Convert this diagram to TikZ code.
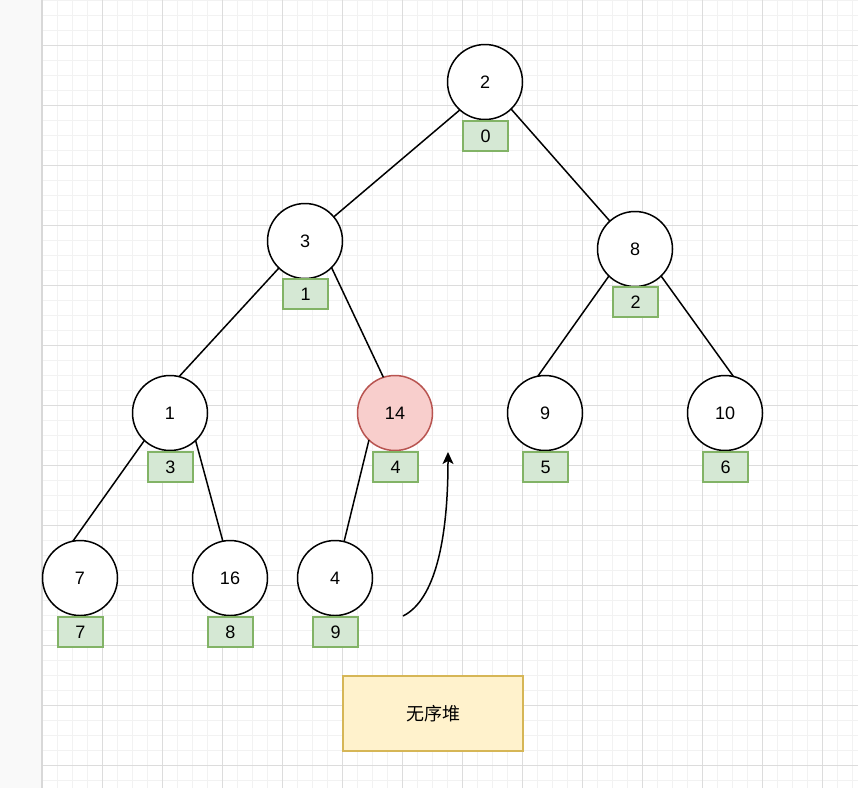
\documentclass[tikz,border=0pt]{standalone}
\usepackage{fontspec}
\setmainfont{Liberation Sans}
\newfontfamily\cjk{Noto Sans CJK SC}
\usetikzlibrary{arrows.meta}
\definecolor{minorgrid}{HTML}{F2F2F2}
\definecolor{majorgrid}{HTML}{DCDCDC}
\definecolor{panelbg}{HTML}{F9F9F9}
\definecolor{panelline}{HTML}{D8D8D8}
\definecolor{greenfill}{HTML}{D5E8D4}
\definecolor{greenline}{HTML}{82B366}
\definecolor{redfill}{HTML}{F8CECC}
\definecolor{redline}{HTML}{B85450}
\definecolor{yellowfill}{HTML}{FFF2CC}
\definecolor{yellowline}{HTML}{D6B656}
\tikzset{
  heapnode/.style={circle, draw=black, fill=white, line width=1.5pt, minimum size=75pt, inner sep=0pt, outer sep=0pt, font=\fontsize{18}{20}\selectfont},
  rednode/.style={heapnode, draw=redline, fill=redfill},
  idxbox/.style={rectangle, draw=greenline, fill=greenfill, line width=1.5pt, minimum width=45pt, minimum height=30pt, inner sep=0pt, outer sep=0pt, font=\fontsize{18}{20}\selectfont},
  notebox/.style={rectangle, draw=yellowline, fill=yellowfill, line width=1.5pt, minimum width=180pt, minimum height=75pt, inner sep=0pt, font=\cjk\fontsize{18}{20}\selectfont},
  edge/.style={draw=black, line width=1.5pt},
  curvearrow/.style={draw=black, line width=1.5pt, -{Stealth[length=12pt, width=11pt, inset=3pt]}}
}
\begin{document}
\begin{tikzpicture}[x=1pt, y=-1pt]
\useasboundingbox (0,0) rectangle (858,788);
% background
\fill[white] (0,0) rectangle (858,788);
\foreach \x in {57,72,...,858} \draw[minorgrid, line width=1pt] (\x,0) -- (\x,788);
\foreach \y in {0,15,...,788} \draw[minorgrid, line width=1pt] (42,\y) -- (858,\y);
\foreach \x in {102,162,...,858} \draw[majorgrid, line width=1pt] (\x,0) -- (\x,788);
\foreach \y in {45,105,...,788} \draw[majorgrid, line width=1pt] (42,\y) -- (858,\y);
\fill[panelbg] (0,0) rectangle (42,788);
\draw[panelline, line width=1.5pt] (42,0) -- (42,788);
% heap nodes
\node[heapnode] (n2) at (485,82) {2};
\node[heapnode] (n3) at (305,241) {3};
\node[heapnode] (n8) at (635,249) {8};
\node[heapnode] (n1) at (170,413) {1};
\node[rednode] (n14) at (395,413) {14};
\node[heapnode] (n9) at (545,413) {9};
\node[heapnode] (n10) at (725,413) {10};
\node[heapnode] (n7) at (80,578) {7};
\node[heapnode] (n16) at (230,578) {16};
\node[heapnode] (n4) at (335,578) {4};
% index boxes
\node[idxbox] (l0) at (485.5,136) {0};
\node[idxbox] (l1) at (305.5,294) {1};
\node[idxbox] (l2) at (635.5,302) {2};
\node[idxbox] (l3) at (170.5,467) {3};
\node[idxbox] (l4) at (395.5,467) {4};
\node[idxbox] (l5) at (545.5,467) {5};
\node[idxbox] (l6) at (725.5,467) {6};
\node[idxbox] (l7) at (80.5,632) {7};
\node[idxbox] (l8) at (230.5,632) {8};
\node[idxbox] (l9) at (335.5,632) {9};
% edges
\draw[edge] (n2.228) -- (n3.40);
\draw[edge] (n2.314) -- (n8.132);
\draw[edge] (n3.226) -- (n1.76);
\draw[edge] (n3.315) -- (n14.108);
\draw[edge] (n8.226) -- (n9.101);
\draw[edge] (n8.314) -- (n10.77);
\draw[edge] (n1.227) -- (n7.101);
\draw[edge] (n1.313) -- (n16.101);
\draw[edge] (n14.226) -- (n4.76);
% curved arrow
\coordinate (a0) at (403,616);
\coordinate (a1) at (448,452);
\draw[curvearrow] (a0) .. controls (435,600) and (448,540) .. (a1);
% note
\node[notebox] (note) at (433,713.5) {无序堆};
\end{tikzpicture}
\end{document}
